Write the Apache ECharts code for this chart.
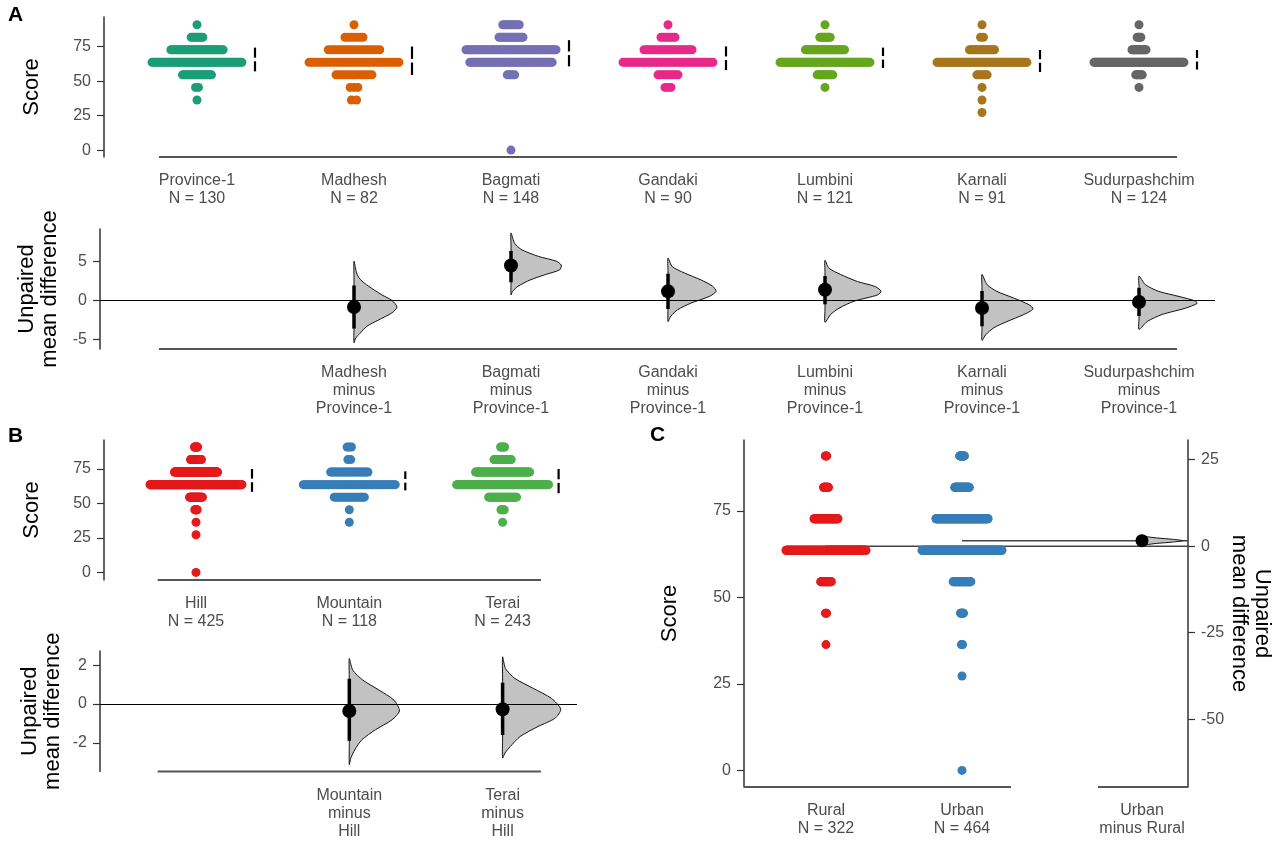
<!DOCTYPE html>
<html><head><meta charset="utf-8">
<script src="https://cdn.jsdelivr.net/npm/echarts@6/dist/echarts.min.js"></script>
<style>html,body{margin:0;padding:0;background:#fff}#c{width:1280px;height:852px}</style>
</head><body><div id="c"></div>
<script>
// ================= DATA =================
// score levels (correct answers out of 11, as %)
const scoreLevels = [0, 27.27, 36.36, 45.45, 54.55, 63.64, 72.73, 81.82, 90.91];

// ---- Panel A: provinces ----
const provinces = ['Province-1', 'Madhesh', 'Bagmati', 'Gandaki', 'Lumbini', 'Karnali', 'Sudurpashchim'];
const provinceN = [130, 82, 148, 90, 121, 91, 124];
// counts per score level (same order as scoreLevels)
const cntProvince1 = [0, 0, 1, 2, 20, 62, 36, 8, 1];
const cntMadhesh   = [0, 0, 2, 3, 14, 35, 20, 7, 1];
const cntBagmati   = [1, 0, 0, 0, 5, 55, 60, 16, 11];
const cntGandaki   = [0, 0, 0, 3, 10, 45, 24, 7, 1];
const cntLumbini   = [0, 0, 0, 1, 12, 69, 30, 8, 1];
const cntKarnali   = [0, 1, 1, 1, 7, 61, 17, 2, 1];
const cntSudur     = [0, 0, 0, 1, 7, 96, 15, 4, 1];
const provinceMean = [65.7, 64.8, 70.2, 66.6, 66.9, 64.6, 65.5];
const provinceSD   = [8.6, 10.3, 9.5, 8.6, 7.4, 8.0, 7.1];
const provinceDiff = [-0.85, 4.45, 1.15, 1.36, -0.98, -0.2];      // vs Province-1
const provinceCI   = [[-3.6, 1.9], [2.3, 6.3], [-1.1, 3.4], [-0.5, 3.1], [-3.3, 1.2], [-2.0, 1.6]];
// bootstrap densities: [mean difference, relative density]
const bootMadhesh = [[5.0,0],[3.5,0.06],[2.7,0.14],[1.8,0.34],[0.7,0.65],[0.0,0.88],[-0.85,1.0],[-1.6,0.88],[-2.5,0.57],[-3.3,0.3],[-4.2,0.14],[-4.8,0.04],[-5.4,0]];
const bootBagmati = [[8.6,0],[7.3,0.07],[6.5,0.2],[5.6,0.55],[5.0,0.9],[4.5,1.0],[3.9,0.97],[3.3,0.69],[2.6,0.38],[1.8,0.14],[1.15,0.03],[0.7,0]];
const bootGandaki = [[5.4,0],[4.3,0.09],[3.5,0.34],[2.6,0.69],[1.8,0.93],[1.15,1.0],[0.5,0.86],[-0.34,0.48],[-1.2,0.2],[-2.0,0.06],[-2.7,0]];
const bootLumbini = [[5.1,0],[4.1,0.07],[3.3,0.28],[2.4,0.58],[1.8,0.88],[1.2,1.0],[0.7,0.94],[-0.1,0.52],[-1.0,0.25],[-1.8,0.1],[-2.8,0]];
const bootKarnali = [[3.3,0],[2.0,0.1],[1.15,0.29],[0.3,0.62],[-0.55,0.92],[-1.1,1.0],[-1.8,0.82],[-2.7,0.49],[-3.5,0.23],[-4.4,0.07],[-5.1,0]];
const bootSudur   = [[3.1,0],[2.0,0.11],[1.15,0.34],[0.5,0.69],[-0.1,0.98],[-0.4,1.0],[-1.0,0.8],[-1.8,0.4],[-2.7,0.14],[-3.7,0]];
const provinceBootPeak = [0.274, 0.32, 0.306, 0.357, 0.325, 0.369]; // peak density width (category units)

// ---- Panel B: ecological zones ----
const zones = ['Hill', 'Mountain', 'Terai'];
const zoneN = [425, 118, 243];
const cntHill     = [1, 1, 1, 6, 33, 236, 111, 28, 8];
const cntMountain = [0, 0, 1, 1, 21, 64, 26, 2, 3];
const cntTerai    = [0, 0, 1, 4, 34, 112, 66, 21, 5];
const zoneMean = [66.7, 66.4, 66.2];
const zoneSD   = [8.3, 6.9, 8.8];
const zoneDiff = [-0.36, -0.27];   // vs Hill
const zoneCI   = [[-1.9, 1.3], [-1.6, 1.1]];
const bootMountain = [[2.34,0],[1.74,0.07],[1.23,0.27],[0.72,0.59],[0.2,0.89],[-0.36,1.0],[-0.82,0.85],[-1.33,0.52],[-1.85,0.25],[-2.36,0.11],[-2.79,0.03],[-3.13,0]];
const bootTerai    = [[2.43,0],[1.83,0.05],[1.32,0.21],[0.8,0.53],[0.29,0.84],[-0.27,1.0],[-0.74,0.9],[-1.16,0.61],[-1.68,0.3],[-2.2,0.13],[-2.53,0.04],[-2.79,0]];
const zoneBootPeak = [0.327, 0.379];

// ---- Panel C: residence ----
const areas = ['Rural', 'Urban'];
const areaN = [322, 464];
const cntRural = [0, 0, 1, 3, 28, 210, 63, 13, 4];
const cntUrban = [1, 1, 3, 8, 47, 213, 139, 39, 13];
const areaMean = [64.8, 66.4];
const areaDiff = 1.6;             // Urban minus Rural
const areaCI = [0.7, 2.5];
const bootUrbanRural = [[0.0,0],[0.4,0.1],[0.8,0.35],[1.2,0.75],[1.6,1.0],[2.0,0.75],[2.4,0.35],[2.8,0.1],[3.2,0]];
const areaBootPeak = 0.30;

// tick labels
const ticksScore = [0, 25, 50, 75];
const ticksDiffA = [-5, 0, 5];
const ticksDiffB = [-2, 0, 2];
const ticksDiffC = [-50, -25, 0, 25];

// colours
const provinceColors = ['#1b9e77', '#d95f02', '#7570b3', '#e7298a', '#66a61e', '#a6761d', '#666666'];
const zoneColors = ['#e41a1c', '#377eb8', '#4daf4a'];
const areaColors = ['#e41a1c', '#377eb8'];

// ================= LAYOUT =================
const FONT = 'Liberation Sans, Arial, Helvetica, sans-serif';
const TICK_COL = '#4d4d4d';
const panelA = {x0: 197, step: 157};
const panelB = {x0: 196, step: 153.3};
const panelC = {x0: 826, step: 136};
function xr(p, left, right) { return [(left - p.x0) / p.step, (right - p.x0) / p.step]; }

const grids = [
  {left: 104, top: 17,  width: 1111, height: 140},  // A top
  {left: 100, top: 229, width: 1115, height: 120},  // A bottom
  {left: 104, top: 440, width: 473,  height: 140},  // B top
  {left: 100, top: 651, width: 477,  height: 120.5},// B bottom
  {left: 744, top: 440, width: 444,  height: 347}   // C
];
const xA0 = xr(panelA, 104, 1215), xA1 = xr(panelA, 100, 1215);
const xB0 = xr(panelB, 104, 577),  xB1 = xr(panelB, 100, 577);
const xC  = xr(panelC, 744, 1188);
const effX = (1142 - panelC.x0) / panelC.step;

const yA0 = [-5, 96.5], yA1 = [-6.2, 9.1], yB0 = [-5.5, 96], yB1 = [-3.48, 2.73];
const yCL = [-4.8, 95.5];
const yCR = [yCL[0] - areaMean[0], yCL[1] - areaMean[0]];

function xAxisCfg(gi, range, values, labels) {
  return {
    type: 'value', gridIndex: gi, min: range[0], max: range[1],
    axisLine: {show: false, onZero: false}, axisTick: {show: false}, splitLine: {show: false},
    axisLabel: {
      customValues: values,
      formatter: v => { const k = values.findIndex(u => Math.abs(u - v) < 1e-6); return k >= 0 ? labels[k] : ''; },
      margin: 15, fontFamily: FONT, fontSize: 16, lineHeight: 18, color: TICK_COL
    }
  };
}
function yAxisCfg(gi, range, ticks, name, nameGap, pos) {
  const right = pos === 'right';
  return {
    type: 'value', gridIndex: gi, min: range[0], max: range[1], position: pos || 'left',
    axisLine: {show: true, onZero: false, lineStyle: {color: '#333', width: 1.5}},
    axisTick: {show: true, customValues: ticks, length: 7, lineStyle: {color: '#333', width: 1.2}},
    axisLabel: {customValues: ticks, margin: 13, fontFamily: FONT, fontSize: 16, color: TICK_COL},
    splitLine: {show: false},
    name: name, nameLocation: 'middle', nameGap: nameGap, nameRotate: right ? -90 : 90,
    nameTextStyle: {fontFamily: FONT, fontSize: 22, color: '#000', lineHeight: 23}
  };
}

// ================= SERIES BUILDERS =================
function swarm(xi, yi, cat, counts, color, halfPx) {
  const maxC = Math.max(...counts);
  const data = [];
  scoreLevels.forEach((s, k) => { if (counts[k] > 0) data.push([cat, s, counts[k]]); });
  return {
    type: 'custom', xAxisIndex: xi, yAxisIndex: yi, silent: true, clip: false, z: 3, data,
    renderItem(params, api) {
      const c = api.coord([api.value(0), api.value(1)]);
      const n = api.value(2);
      const span = halfPx * n / maxC;
      const children = [];
      for (let i = 0; i < n; i++) {
        const x = n === 1 ? c[0] : c[0] - span + 2 * span * i / (n - 1);
        children.push({type: 'circle', shape: {cx: x, cy: c[1], r: 4.5}, style: {fill: color}});
      }
      return {type: 'group', children};
    }
  };
}
function gapLines(xi, yi, means, sds, offsetPx) {
  return {
    type: 'custom', xAxisIndex: xi, yAxisIndex: yi, silent: true, clip: false, z: 4,
    data: means.map((m, i) => [i, m, sds[i]]),
    renderItem(params, api) {
      const i = api.value(0), m = api.value(1), s = api.value(2);
      const c = api.coord([i, m]), t = api.coord([i, m + s]), b = api.coord([i, m - s]);
      const x = c[0] + offsetPx, g = 1.8;
      const st = {stroke: '#000', lineWidth: 2.2};
      return {type: 'group', children: [
        {type: 'line', shape: {x1: x, y1: t[1], x2: x, y2: c[1] - g}, style: st},
        {type: 'line', shape: {x1: x, y1: c[1] + g, x2: x, y2: b[1]}, style: st}
      ]};
    }
  };
}
function boot(xi, yi, cat, profile, peak) {
  return {
    type: 'custom', xAxisIndex: xi, yAxisIndex: yi, silent: true, clip: false, z: 3,
    data: [[cat, profile[0][0]]],
    renderItem(params, api) {
      const pts = profile.map(([y, w]) => api.coord([cat + w * peak, y]));
      const yTop = profile[0][0], yBot = profile[profile.length - 1][0];
      for (let k = 1; k < 5; k++) pts.push(api.coord([cat, yBot + (yTop - yBot) * k / 5]));
      return {type: 'polygon', shape: {points: pts, smooth: 0.25},
              style: {fill: '#c2c2c2', stroke: '#111', lineWidth: 1}};
    }
  };
}
function effect(xi, yi, cats, diffs, cis, r) {
  return {
    type: 'custom', xAxisIndex: xi, yAxisIndex: yi, silent: true, clip: false, z: 5,
    data: cats.map((c, i) => [c, diffs[i], cis[i][0], cis[i][1]]),
    renderItem(params, api) {
      const x = api.value(0);
      const p = api.coord([x, api.value(1)]), lo = api.coord([x, api.value(2)]), hi = api.coord([x, api.value(3)]);
      return {type: 'group', children: [
        {type: 'line', shape: {x1: p[0], y1: lo[1], x2: p[0], y2: hi[1]}, style: {stroke: '#000', lineWidth: 3.5}},
        {type: 'circle', shape: {cx: p[0], cy: p[1], r: r || 7}, style: {fill: '#000'}}
      ]};
    }
  };
}
function hline(xi, yi, x1, x2, y, color, width, zero) {
  const s = {
    type: 'line', xAxisIndex: xi, yAxisIndex: yi, silent: true, clip: false, z: 2,
    symbol: 'none', data: [[x1, y], [x2, y]],
    lineStyle: {color, width}
  };
  if (zero) s.markLine = {silent: true, symbol: 'none', label: {show: false},
    lineStyle: {color: '#000', width: 1.2, type: 'solid'}, data: [{yAxis: 0}]};
  return s;
}

// ================= BUILD =================
const series = [];
const cntsProv = [cntProvince1, cntMadhesh, cntBagmati, cntGandaki, cntLumbini, cntKarnali, cntSudur];
const bootProv = [bootMadhesh, bootBagmati, bootGandaki, bootLumbini, bootKarnali, bootSudur];
// A top
series.push(hline(0, 0, -0.242, 6.242, yA0[0], '#555', 2.2));
cntsProv.forEach((c, i) => series.push(swarm(0, 0, i, c, provinceColors[i], 45)));
series.push(gapLines(0, 0, provinceMean, provinceSD, 58));
// A bottom
series.push(hline(1, 1, -0.242, 6.242, yA1[0], '#555', 2.2, true));
bootProv.forEach((b, i) => series.push(boot(1, 1, i + 1, b, provinceBootPeak[i])));
series.push(effect(1, 1, [1, 2, 3, 4, 5, 6], provinceDiff, provinceCI));
// B top
const cntsZone = [cntHill, cntMountain, cntTerai];
series.push(hline(2, 2, -0.25, 2.25, yB0[0], '#555', 2.2));
cntsZone.forEach((c, i) => series.push(swarm(2, 2, i, c, zoneColors[i], 46)));
series.push(gapLines(2, 2, zoneMean, zoneSD, 56));
// B bottom
series.push(hline(3, 3, -0.25, 2.25, yB1[0], '#555', 2.2, true));
series.push(boot(3, 3, 1, bootMountain, zoneBootPeak[0]));
series.push(boot(3, 3, 2, bootTerai, zoneBootPeak[1]));
series.push(effect(3, 3, [1, 2], zoneDiff, zoneCI));
// C
series.push(hline(4, 4, xC[0], (1011 - panelC.x0) / panelC.step, yCL[0], '#555', 2.2));
series.push(hline(4, 4, (1098 - panelC.x0) / panelC.step, xC[1], yCL[0], '#555', 2.2));
[cntRural, cntUrban].forEach((c, i) => series.push(swarm(4, 4, i, c, areaColors[i], 40)));
series.push(hline(4, 4, 0, xC[1], areaMean[0], '#444', 1.5));
series.push(hline(4, 4, 1, xC[1], areaMean[1], '#444', 1.5));
series.push(boot(4, 5, effX, bootUrbanRural, areaBootPeak));
series.push(effect(4, 5, [effX], [areaDiff], [areaCI], 6.5));

const option = {
  animation: false,
  backgroundColor: '#fff',
  textStyle: {fontFamily: FONT},
  grid: grids.map(g => Object.assign({containLabel: false}, g)),
  xAxis: [
    xAxisCfg(0, xA0, [0, 1, 2, 3, 4, 5, 6], provinces.map((p, i) => p + '\nN = ' + provinceN[i])),
    xAxisCfg(1, xA1, [1, 2, 3, 4, 5, 6], provinces.slice(1).map(p => p + '\nminus\n' + provinces[0])),
    xAxisCfg(2, xB0, [0, 1, 2], zones.map((z, i) => z + '\nN = ' + zoneN[i])),
    xAxisCfg(3, xB1, [1, 2], zones.slice(1).map(z => z + '\nminus\n' + zones[0])),
    xAxisCfg(4, xC, [0, 1, effX], areas.map((a, i) => a + '\nN = ' + areaN[i]).concat([areas[1] + '\nminus ' + areas[0]]))
  ],
  yAxis: [
    yAxisCfg(0, yA0, ticksScore, 'Score', 61),
    yAxisCfg(1, yA1, ticksDiffA, 'Unpaired\nmean difference', 36),
    yAxisCfg(2, yB0, ticksScore, 'Score', 61),
    yAxisCfg(3, yB1, ticksDiffB, 'Unpaired\nmean difference', 36),
    yAxisCfg(4, yCL, ticksScore, 'Score', 63),
    yAxisCfg(4, yCR, ticksDiffC, 'Unpaired\nmean difference', 34, 'right')
  ],
  graphic: [
    {type: 'text', left: 8, top: 5, style: {text: 'A', font: 'bold 21px ' + FONT, fill: '#000'}},
    {type: 'text', left: 8, top: 426, style: {text: 'B', font: 'bold 21px ' + FONT, fill: '#000'}},
    {type: 'text', left: 650, top: 425, style: {text: 'C', font: 'bold 21px ' + FONT, fill: '#000'}}
  ],
  series
};
const chart = echarts.init(document.getElementById('c'), null, {renderer: 'canvas'});
chart.setOption(option);
</script>
</body></html>
